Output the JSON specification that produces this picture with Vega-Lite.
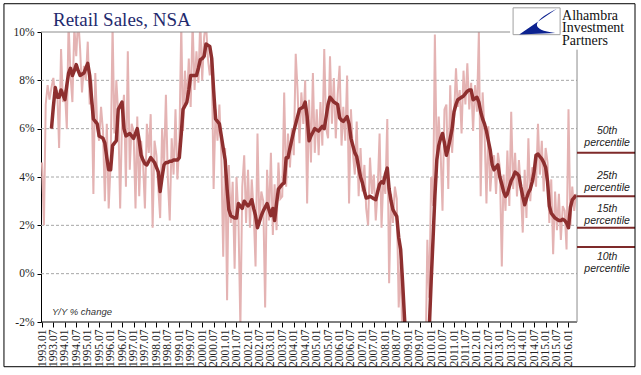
{
  "$schema": "https://vega.github.io/schema/vega-lite/v6.json",
  "width": 594,
  "height": 290,
  "autosize": {"type": "none"},
  "padding": {"left": 41, "top": 32, "right": 6, "bottom": 53},
  "background": "white",
  "config": {
    "view": {"stroke": null},
    "axisX": {"title": null, "domain": false, "grid": false, "format": "%Y.%m", "labelAngle": 270, "labelFont": "Liberation Serif", "labelFontSize": 11.5, "labelColor": "#222", "labelPadding": 2, "tickColor": "#000", "tickSize": 5, "tickWidth": 1, "labelOverlap": false, "labelBound": false, "labelFlush": false}
  },
  "resolve": {"axis": {"x": "independent"}},
  "datasets": {
    "sales": [
      {"d":"1993-01","raw":4.6,"avg":null},{"d":"1993-02","raw":2.0,"avg":null},{"d":"1993-03","raw":7.0,"avg":null},{"d":"1993-04","raw":7.8,"avg":null},{"d":"1993-05","raw":7.2,"avg":null},{"d":"1993-06","raw":7.7,"avg":6.0},{"d":"1993-07","raw":8.1,"avg":6.9},{"d":"1993-08","raw":7.3,"avg":7.7},{"d":"1993-09","raw":7.6,"avg":7.3},{"d":"1993-10","raw":5.2,"avg":7.3},{"d":"1993-11","raw":9.3,"avg":7.6},{"d":"1993-12","raw":7.1,"avg":7.4},
      {"d":"1994-01","raw":7.6,"avg":7.2},{"d":"1994-02","raw":6.0,"avg":7.8},{"d":"1994-03","raw":10.4,"avg":8.3},{"d":"1994-04","raw":8.2,"avg":8.5},{"d":"1994-05","raw":7.1,"avg":8.2},{"d":"1994-06","raw":10.2,"avg":8.4},{"d":"1994-07","raw":9.0,"avg":8.65},{"d":"1994-08","raw":10.6,"avg":8.4},{"d":"1994-09","raw":9.3,"avg":8.2},{"d":"1994-10","raw":7.5,"avg":8.25},{"d":"1994-11","raw":8.6,"avg":8.3},{"d":"1994-12","raw":8.0,"avg":8.5},
      {"d":"1995-01","raw":9.6,"avg":8.7},{"d":"1995-02","raw":7.0,"avg":8.2},{"d":"1995-03","raw":8.0,"avg":7.3},{"d":"1995-04","raw":3.3,"avg":6.4},{"d":"1995-05","raw":8.3,"avg":6.3},{"d":"1995-06","raw":6.1,"avg":6.2},{"d":"1995-07","raw":5.5,"avg":5.7},{"d":"1995-08","raw":6.9,"avg":5.65},{"d":"1995-09","raw":5.9,"avg":5.6},{"d":"1995-10","raw":3.0,"avg":5.4},{"d":"1995-11","raw":6.2,"avg":4.8},{"d":"1995-12","raw":2.7,"avg":4.3},
      {"d":"1996-01","raw":4.6,"avg":4.3},{"d":"1996-02","raw":10.3,"avg":5.3},{"d":"1996-03","raw":5.8,"avg":5.4},{"d":"1996-04","raw":8.0,"avg":5.5},{"d":"1996-05","raw":6.6,"avg":6.8},{"d":"1996-06","raw":2.7,"avg":6.95},{"d":"1996-07","raw":6.4,"avg":7.1},{"d":"1996-08","raw":7.4,"avg":6.0},{"d":"1996-09","raw":3.6,"avg":5.7},{"d":"1996-10","raw":9.2,"avg":5.75},{"d":"1996-11","raw":4.3,"avg":5.8},{"d":"1996-12","raw":6.2,"avg":5.7},
      {"d":"1997-01","raw":5.9,"avg":5.6},{"d":"1997-02","raw":2.7,"avg":5.8},{"d":"1997-03","raw":6.5,"avg":6.0},{"d":"1997-04","raw":3.2,"avg":5.5},{"d":"1997-05","raw":5.5,"avg":4.9},{"d":"1997-06","raw":4.6,"avg":4.7},{"d":"1997-07","raw":2.7,"avg":4.55},{"d":"1997-08","raw":6.2,"avg":4.5},{"d":"1997-09","raw":5.0,"avg":4.65},{"d":"1997-10","raw":6.6,"avg":4.8},{"d":"1997-11","raw":1.9,"avg":4.7},{"d":"1997-12","raw":5.5,"avg":4.6},
      {"d":"1998-01","raw":4.9,"avg":4.4},{"d":"1998-02","raw":3.5,"avg":4.2},{"d":"1998-03","raw":2.3,"avg":3.4},{"d":"1998-04","raw":6.0,"avg":4.0},{"d":"1998-05","raw":4.4,"avg":4.5},{"d":"1998-06","raw":7.4,"avg":4.6},{"d":"1998-07","raw":4.0,"avg":4.6},{"d":"1998-08","raw":2.2,"avg":4.65},{"d":"1998-09","raw":5.6,"avg":4.65},{"d":"1998-10","raw":4.1,"avg":4.7},{"d":"1998-11","raw":6.8,"avg":4.7},{"d":"1998-12","raw":3.9,"avg":4.7},
      {"d":"1999-01","raw":5.4,"avg":4.8},{"d":"1999-02","raw":10.3,"avg":5.8},{"d":"1999-03","raw":5.9,"avg":6.8},{"d":"1999-04","raw":8.4,"avg":6.95},{"d":"1999-05","raw":7.0,"avg":7.1},{"d":"1999-06","raw":8.9,"avg":7.6},{"d":"1999-07","raw":6.9,"avg":8.2},{"d":"1999-08","raw":10.4,"avg":8.2},{"d":"1999-09","raw":7.6,"avg":8.2},{"d":"1999-10","raw":9.2,"avg":8.2},{"d":"1999-11","raw":7.9,"avg":8.5},{"d":"1999-12","raw":10.5,"avg":8.85},
      {"d":"2000-01","raw":8.0,"avg":8.9},{"d":"2000-02","raw":9.8,"avg":9.0},{"d":"2000-03","raw":10.4,"avg":9.5},{"d":"2000-04","raw":8.9,"avg":9.45},{"d":"2000-05","raw":8.2,"avg":9.4},{"d":"2000-06","raw":9.0,"avg":8.9},{"d":"2000-07","raw":3.5,"avg":7.6},{"d":"2000-08","raw":6.8,"avg":6.4},{"d":"2000-09","raw":5.5,"avg":6.3},{"d":"2000-10","raw":7.0,"avg":6.2},{"d":"2000-11","raw":4.9,"avg":5.7},{"d":"2000-12","raw":0.7,"avg":5.2},
      {"d":"2001-01","raw":5.2,"avg":4.7},{"d":"2001-02","raw":-1.1,"avg":3.5},{"d":"2001-03","raw":4.5,"avg":2.65},{"d":"2001-04","raw":2.1,"avg":2.4},{"d":"2001-05","raw":3.8,"avg":2.35},{"d":"2001-06","raw":0.2,"avg":2.3},{"d":"2001-07","raw":4.0,"avg":2.3},{"d":"2001-08","raw":2.3,"avg":2.9},{"d":"2001-09","raw":-2.2,"avg":2.8},{"d":"2001-10","raw":3.6,"avg":2.7},{"d":"2001-11","raw":4.9,"avg":3.0},{"d":"2001-12","raw":2.1,"avg":2.9},
      {"d":"2002-01","raw":4.3,"avg":2.8},{"d":"2002-02","raw":1.9,"avg":2.9},{"d":"2002-03","raw":3.9,"avg":3.06},{"d":"2002-04","raw":2.6,"avg":2.7},{"d":"2002-05","raw":0.3,"avg":2.4},{"d":"2002-06","raw":5.8,"avg":1.9},{"d":"2002-07","raw":2.0,"avg":2.15},{"d":"2002-08","raw":3.4,"avg":2.4},{"d":"2002-09","raw":3.0,"avg":2.6},{"d":"2002-10","raw":-1.4,"avg":2.75},{"d":"2002-11","raw":4.3,"avg":2.9},{"d":"2002-12","raw":2.2,"avg":2.65},
      {"d":"2003-01","raw":5.0,"avg":2.4},{"d":"2003-02","raw":1.6,"avg":2.7},{"d":"2003-03","raw":3.7,"avg":2.2},{"d":"2003-04","raw":1.8,"avg":2.9},{"d":"2003-05","raw":4.6,"avg":3.5},{"d":"2003-06","raw":3.1,"avg":3.6},{"d":"2003-07","raw":3.2,"avg":3.7},{"d":"2003-08","raw":7.5,"avg":3.75},{"d":"2003-09","raw":3.6,"avg":4.8},{"d":"2003-10","raw":5.8,"avg":4.8},{"d":"2003-11","raw":4.4,"avg":5.2},{"d":"2003-12","raw":6.0,"avg":5.55},
      {"d":"2004-01","raw":4.9,"avg":5.9},{"d":"2004-02","raw":9.1,"avg":6.2},{"d":"2004-03","raw":7.6,"avg":6.5},{"d":"2004-04","raw":5.4,"avg":6.8},{"d":"2004-05","raw":7.5,"avg":6.85},{"d":"2004-06","raw":6.2,"avg":6.9},{"d":"2004-07","raw":8.0,"avg":7.1},{"d":"2004-08","raw":2.9,"avg":6.5},{"d":"2004-09","raw":7.2,"avg":5.5},{"d":"2004-10","raw":4.6,"avg":5.7},{"d":"2004-11","raw":8.3,"avg":5.85},{"d":"2004-12","raw":5.0,"avg":6.0},
      {"d":"2005-01","raw":6.8,"avg":5.95},{"d":"2005-02","raw":4.9,"avg":5.9},{"d":"2005-03","raw":7.1,"avg":6.0},{"d":"2005-04","raw":5.3,"avg":6.1},{"d":"2005-05","raw":9.3,"avg":6.0},{"d":"2005-06","raw":6.0,"avg":6.5},{"d":"2005-07","raw":5.6,"avg":7.0},{"d":"2005-08","raw":9.0,"avg":7.3},{"d":"2005-09","raw":6.2,"avg":7.2},{"d":"2005-10","raw":8.1,"avg":7.1},{"d":"2005-11","raw":5.6,"avg":7.05},{"d":"2005-12","raw":7.4,"avg":7.0},
      {"d":"2006-01","raw":8.6,"avg":6.45},{"d":"2006-02","raw":5.3,"avg":6.35},{"d":"2006-03","raw":6.9,"avg":6.3},{"d":"2006-04","raw":5.5,"avg":6.4},{"d":"2006-05","raw":8.2,"avg":6.5},{"d":"2006-06","raw":2.9,"avg":6.2},{"d":"2006-07","raw":6.8,"avg":5.6},{"d":"2006-08","raw":5.0,"avg":5.3},{"d":"2006-09","raw":4.1,"avg":5.0},{"d":"2006-10","raw":6.3,"avg":4.85},{"d":"2006-11","raw":3.2,"avg":4.4},{"d":"2006-12","raw":5.2,"avg":4.0},
      {"d":"2007-01","raw":3.4,"avg":3.75},{"d":"2007-02","raw":4.5,"avg":3.4},{"d":"2007-03","raw":2.7,"avg":3.13},{"d":"2007-04","raw":2.0,"avg":3.15},{"d":"2007-05","raw":4.8,"avg":3.2},{"d":"2007-06","raw":3.3,"avg":3.15},{"d":"2007-07","raw":4.1,"avg":3.1},{"d":"2007-08","raw":2.2,"avg":3.06},{"d":"2007-09","raw":3.5,"avg":3.4},{"d":"2007-10","raw":5.8,"avg":3.7},{"d":"2007-11","raw":1.9,"avg":3.8},{"d":"2007-12","raw":4.0,"avg":3.75},
      {"d":"2008-01","raw":3.3,"avg":4.1},{"d":"2008-02","raw":6.4,"avg":4.37},{"d":"2008-03","raw":-0.4,"avg":3.5},{"d":"2008-04","raw":3.3,"avg":3.0},{"d":"2008-05","raw":2.1,"avg":2.65},{"d":"2008-06","raw":3.6,"avg":2.5},{"d":"2008-07","raw":3.1,"avg":2.37},{"d":"2008-08","raw":-1.4,"avg":1.5},{"d":"2008-09","raw":0.5,"avg":1.0},{"d":"2008-10","raw":-3.0,"avg":-0.3},{"d":"2008-11","raw":-2.5,"avg":-1.8},{"d":"2008-12","raw":-6.0,"avg":-3.0},
      {"d":"2009-01","raw":-8.0,"avg":-4.2},{"d":"2009-02","raw":-10.0,"avg":-5.5},{"d":"2009-03","raw":-9.0,"avg":-6.5},{"d":"2009-04","raw":-11.0,"avg":-7.5},{"d":"2009-05","raw":-10.0,"avg":-8.3},{"d":"2009-06","raw":-12.0,"avg":-8.8},{"d":"2009-07","raw":-9.0,"avg":-9.0},{"d":"2009-08","raw":-10.0,"avg":-8.5},{"d":"2009-09","raw":-7.0,"avg":-7.2},{"d":"2009-10","raw":-4.0,"avg":-5.5},{"d":"2009-11","raw":1.4,"avg":-3.8},{"d":"2009-12","raw":-1.0,"avg":-2.3},
      {"d":"2010-01","raw":4.0,"avg":-0.3},{"d":"2010-02","raw":2.8,"avg":1.5},{"d":"2010-03","raw":9.9,"avg":3.2},{"d":"2010-04","raw":4.5,"avg":4.7},{"d":"2010-05","raw":6.5,"avg":5.3},{"d":"2010-06","raw":5.0,"avg":5.6},{"d":"2010-07","raw":2.6,"avg":5.8},{"d":"2010-08","raw":6.8,"avg":5.4},{"d":"2010-09","raw":7.0,"avg":4.9},{"d":"2010-10","raw":3.5,"avg":5.2},{"d":"2010-11","raw":7.8,"avg":5.6},{"d":"2010-12","raw":5.0,"avg":6.0},
      {"d":"2011-01","raw":6.5,"avg":6.7},{"d":"2011-02","raw":8.5,"avg":7.0},{"d":"2011-03","raw":6.9,"avg":7.2},{"d":"2011-04","raw":7.6,"avg":7.25},{"d":"2011-05","raw":5.8,"avg":7.3},{"d":"2011-06","raw":8.4,"avg":7.35},{"d":"2011-07","raw":7.0,"avg":7.45},{"d":"2011-08","raw":8.7,"avg":7.55},{"d":"2011-09","raw":6.8,"avg":7.6},{"d":"2011-10","raw":7.9,"avg":7.6},{"d":"2011-11","raw":5.9,"avg":7.2},{"d":"2011-12","raw":7.8,"avg":7.25},
      {"d":"2012-01","raw":6.7,"avg":7.3},{"d":"2012-02","raw":10.0,"avg":7.1},{"d":"2012-03","raw":3.2,"avg":6.7},{"d":"2012-04","raw":7.5,"avg":6.4},{"d":"2012-05","raw":5.9,"avg":6.2},{"d":"2012-06","raw":2.9,"avg":5.9},{"d":"2012-07","raw":6.1,"avg":5.5},{"d":"2012-08","raw":3.4,"avg":5.1},{"d":"2012-09","raw":4.6,"avg":4.5},{"d":"2012-10","raw":4.9,"avg":4.3},{"d":"2012-11","raw":3.3,"avg":4.4},{"d":"2012-12","raw":5.0,"avg":4.5},
      {"d":"2013-01","raw":4.4,"avg":4.0},{"d":"2013-02","raw":0.3,"avg":3.7},{"d":"2013-03","raw":4.1,"avg":3.4},{"d":"2013-04","raw":2.6,"avg":3.2},{"d":"2013-05","raw":5.1,"avg":3.3},{"d":"2013-06","raw":2.8,"avg":3.6},{"d":"2013-07","raw":6.7,"avg":3.85},{"d":"2013-08","raw":3.5,"avg":4.0},{"d":"2013-09","raw":5.0,"avg":4.2},{"d":"2013-10","raw":3.2,"avg":4.15},{"d":"2013-11","raw":4.7,"avg":4.05},{"d":"2013-12","raw":3.5,"avg":3.6},
      {"d":"2014-01","raw":1.7,"avg":3.2},{"d":"2014-02","raw":4.3,"avg":2.85},{"d":"2014-03","raw":2.3,"avg":3.1},{"d":"2014-04","raw":5.6,"avg":3.35},{"d":"2014-05","raw":3.0,"avg":3.5},{"d":"2014-06","raw":4.4,"avg":3.8},{"d":"2014-07","raw":4.2,"avg":4.2},{"d":"2014-08","raw":3.6,"avg":4.9},{"d":"2014-09","raw":6.2,"avg":4.95},{"d":"2014-10","raw":4.1,"avg":4.85},{"d":"2014-11","raw":5.5,"avg":4.75},{"d":"2014-12","raw":3.4,"avg":4.6},
      {"d":"2015-01","raw":5.2,"avg":4.4},{"d":"2015-02","raw":4.6,"avg":3.8},{"d":"2015-03","raw":2.1,"avg":2.8},{"d":"2015-04","raw":3.9,"avg":2.5},{"d":"2015-05","raw":0.8,"avg":2.4},{"d":"2015-06","raw":3.4,"avg":2.3},{"d":"2015-07","raw":1.8,"avg":2.25},{"d":"2015-08","raw":3.3,"avg":2.2},{"d":"2015-09","raw":1.4,"avg":2.2},{"d":"2015-10","raw":2.8,"avg":2.25},{"d":"2015-11","raw":2.6,"avg":2.2},{"d":"2015-12","raw":1.0,"avg":2.1},
      {"d":"2016-01","raw":6.8,"avg":1.9},{"d":"2016-02","raw":2.0,"avg":2.75},{"d":"2016-03","raw":3.6,"avg":3.05},{"d":"2016-04","raw":2.6,"avg":3.15},{"d":"2016-05","raw":3.3,"avg":3.25}
    ],
    "grid": [{"g": 0}, {"g": 2}, {"g": 4}, {"g": 6}, {"g": 8}],
    "pct": [{"p": 5.0}, {"p": 3.2}, {"p": 1.9}, {"p": 1.1}],
    "pctlab": [
      {"label": "50th\npercentile", "at": 5.67},
      {"label": "25th\npercentile", "at": 3.81},
      {"label": "15th\npercentile", "at": 2.44},
      {"label": "10th\npercentile", "at": 0.455}
    ],
    "one": [{}]
  },
  "layer": [
    {
      "data": {"name": "grid"},
      "mark": {"type": "rule", "color": "#a6a6a6", "strokeWidth": 1, "strokeDash": [3, 2]},
      "encoding": {
        "y": {
          "field": "g", "type": "quantitative",
          "scale": {"domain": [-2, 10], "nice": false, "zero": false},
          "axis": {
            "title": null, "grid": false, "values": [-2, 0, 2, 4, 6, 8, 10], "labelExpr": "datum.value + '%'",
            "domainColor": "#000", "domainWidth": 1, "tickColor": "#000", "tickSize": 4,
            "labelFont": "Liberation Serif", "labelFontSize": 11.5, "labelColor": "#222", "labelPadding": 3
          }
        },
        "x": {
          "datum": {"year": 1992, "month": 12, "date": 16}, "type": "temporal",
          "scale": {"domain": [{"year": 1992, "month": 12, "date": 16}, {"year": 2018, "month": 11, "date": 27}]},
          "axis": {
            "orient": "bottom",
            "values": [
              {"year":1993,"month":1},{"year":1994,"month":1},{"year":1995,"month":1},{"year":1996,"month":1},{"year":1997,"month":1},{"year":1998,"month":1},{"year":1999,"month":1},{"year":2000,"month":1},{"year":2001,"month":1},{"year":2002,"month":1},{"year":2003,"month":1},{"year":2004,"month":1},{"year":2005,"month":1},{"year":2006,"month":1},{"year":2007,"month":1},{"year":2008,"month":1},{"year":2009,"month":1},{"year":2010,"month":1},{"year":2011,"month":1},{"year":2012,"month":1},{"year":2013,"month":1},{"year":2014,"month":1},{"year":2015,"month":1},{"year":2016,"month":1}
            ]
          }
        },
        "x2": {"datum": {"year": 2016, "month": 5, "date": 16}}
      }
    },
    {
      "data": {"name": "sales"},
      "mark": {"type": "line", "color": "#e4b3b3", "strokeWidth": 2, "clip": true},
      "encoding": {
        "x": {
          "field": "d", "type": "temporal",
          "axis": {
            "orient": "bottom",
            "values": [
              {"year":1993,"month":7},{"year":1994,"month":7},{"year":1995,"month":7},{"year":1996,"month":7},{"year":1997,"month":7},{"year":1998,"month":7},{"year":1999,"month":7},{"year":2000,"month":7},{"year":2001,"month":7},{"year":2002,"month":7},{"year":2003,"month":7},{"year":2004,"month":7},{"year":2005,"month":7},{"year":2006,"month":7},{"year":2007,"month":7},{"year":2008,"month":7},{"year":2009,"month":7},{"year":2010,"month":7},{"year":2011,"month":7},{"year":2012,"month":7},{"year":2013,"month":7},{"year":2014,"month":7},{"year":2015,"month":7}
            ]
          }
        },
        "y": {"field": "raw", "type": "quantitative", "axis": {"title": null}}
      }
    },
    {
      "data": {"name": "sales"},
      "mark": {"type": "line", "color": "#8e2f2f", "strokeWidth": 3.5, "clip": true, "strokeJoin": "round"},
      "encoding": {
        "x": {"field": "d", "type": "temporal", "axis": null},
        "y": {"field": "avg", "type": "quantitative", "axis": {"title": null}}
      }
    },
    {
      "data": {"name": "one"},
      "mark": {"type": "rule", "color": "#000", "strokeWidth": 1},
      "encoding": {
        "y": {"datum": -2, "type": "quantitative"},
        "x": {"datum": {"year": 1992, "month": 12, "date": 16}, "type": "temporal", "axis": null},
        "x2": {"datum": {"year": 2016, "month": 5, "date": 16}}
      }
    },
    {
      "data": {"name": "one"},
      "mark": {"type": "rule", "color": "#8c8c8c", "strokeWidth": 1},
      "encoding": {
        "y": {"datum": 10, "type": "quantitative"},
        "x": {"datum": {"year": 1992, "month": 12, "date": 16}, "type": "temporal", "axis": null},
        "x2": {"datum": {"year": 2013, "month": 6, "date": 13}}
      }
    },
    {
      "data": {"name": "one"},
      "mark": {"type": "rule", "color": "#8c8c8c", "strokeWidth": 1},
      "encoding": {
        "x": {"datum": {"year": 2016, "month": 5, "date": 16}, "type": "temporal", "axis": null},
        "y": {"datum": -2, "type": "quantitative"},
        "y2": {"datum": 9.27}
      }
    },
    {
      "data": {"name": "pct"},
      "mark": {"type": "rule", "color": "#7e2a2a", "strokeWidth": 2},
      "encoding": {
        "y": {"field": "p", "type": "quantitative"},
        "x": {"datum": {"year": 2016, "month": 5, "date": 16}, "type": "temporal", "axis": null},
        "x2": {"datum": {"year": 2018, "month": 11, "date": 27}}
      }
    },
    {
      "data": {"name": "pctlab"},
      "mark": {"type": "text", "lineBreak": "\n", "font": "Liberation Sans", "fontStyle": "italic", "fontSize": 10.5, "color": "#222", "align": "center", "baseline": "middle", "lineHeight": 12.5, "dy": -6},
      "encoding": {
        "text": {"field": "label"},
        "y": {"field": "at", "type": "quantitative"},
        "x": {"datum": {"year": 2017, "month": 9, "date": 8}, "type": "temporal", "axis": null}
      }
    },
    {
      "data": {"name": "one"},
      "mark": {"type": "text", "text": "Y/Y % change", "font": "Liberation Sans", "fontStyle": "italic", "fontSize": 9.5, "color": "#333", "align": "left", "baseline": "middle"},
      "encoding": {
        "x": {"datum": {"year": 1993, "month": 6, "date": 9}, "type": "temporal", "axis": null},
        "y": {"datum": -1.57, "type": "quantitative"}
      }
    },
    {
      "data": {"name": "one"},
      "mark": {"type": "text", "text": "Retail Sales, NSA", "font": "Liberation Serif", "fontSize": 19, "color": "#1f2a6e", "align": "left", "baseline": "alphabetic"},
      "encoding": {
        "x": {"datum": {"year": 1993, "month": 6, "date": 25}, "type": "temporal", "axis": null},
        "y": {"datum": 10.26, "type": "quantitative"}
      }
    },
    {
      "data": {"name": "one"},
      "mark": {"type": "rect", "fill": "white", "stroke": "#a0a0a0", "strokeWidth": 1},
      "encoding": {
        "x": {"datum": {"year": 2013, "month": 7, "date": 31}, "type": "temporal", "axis": null},
        "x2": {"datum": {"year": 2015, "month": 8, "date": 20}},
        "y": {"datum": 11.0, "type": "quantitative"},
        "y2": {"datum": 9.89}
      }
    },
    {
      "data": {"name": "one"},
      "mark": {"type": "point", "shape": "M 0.86 -0.53 L -0.74 0.57 L 0.79 0.5 Q -0.8 0.3 0.86 -0.53 Z", "filled": true, "color": "#0c2290", "size": 2209, "opacity": 1, "strokeWidth": 0},
      "encoding": {
        "x": {"datum": {"year": 2014, "month": 8, "date": 10}, "type": "temporal", "axis": null},
        "y": {"datum": 10.45, "type": "quantitative"}
      }
    },
    {
      "data": {"name": "one"},
      "mark": {"type": "text", "text": "Alhambra\nInvestment\nPartners", "lineBreak": "\n", "font": "Liberation Serif", "fontSize": 14, "color": "#111", "align": "left", "baseline": "alphabetic", "lineHeight": 12.8},
      "encoding": {
        "x": {"datum": {"year": 2015, "month": 9, "date": 20}, "type": "temporal", "axis": null},
        "y": {"datum": 10.51, "type": "quantitative"}
      }
    },
    {
      "data": {"name": "one"},
      "mark": {"type": "rect", "fill": "white", "fillOpacity": 0, "stroke": "#000", "strokeWidth": 1},
      "encoding": {
        "x": {"datum": {"year": 1991, "month": 5, "date": 5}, "type": "temporal", "axis": null},
        "x2": {"datum": {"year": 2018, "month": 11, "date": 27}},
        "y": {"datum": 11.17, "type": "quantitative"},
        "y2": {"datum": -3.85}
      }
    }
  ]
}
